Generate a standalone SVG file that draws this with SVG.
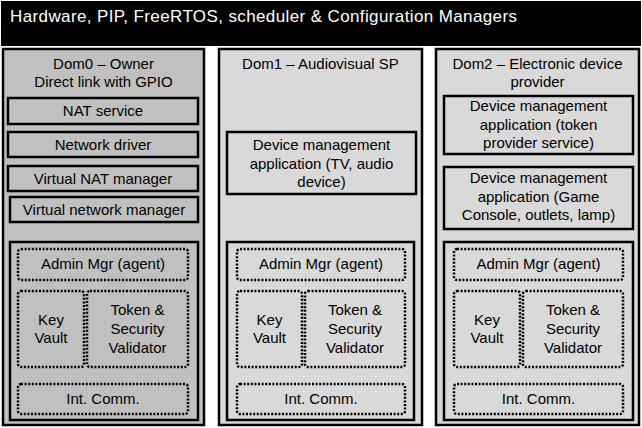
<svg xmlns="http://www.w3.org/2000/svg" width="642" height="428" viewBox="0 0 642 428">
<style>
text{font-family:"Liberation Sans",Arial,sans-serif;font-size:15px;fill:#000;text-anchor:middle}
.title{font-size:17px;fill:#fff;text-anchor:start}
.dom{stroke:#000;stroke-width:2.5}
.d0{fill:#c0c0c0}
.d1{fill:#d9d9d9}
.solid{stroke:#000;stroke-width:2.5}
.dot{fill:none;stroke:#000;stroke-width:2.5;stroke-dasharray:2 1.6}
</style>
<rect width="642" height="428" fill="#fff"/>
<g id="header">
<rect x="1" y="1" width="640" height="45" fill="#000"/>
<text class="title" x="10" y="22" textLength="507" lengthAdjust="spacing">Hardware, PIP, FreeRTOS, scheduler &amp; Configuration Managers</text>
</g>

<g id="dom0">
<rect class="dom d0" x="3" y="49" width="201" height="376"/>
<text x="103.5" y="69">Dom0 – Owner</text>
<text x="103.5" y="87">Direct link with GPIO</text>
</g>
<g id="nat-service"><rect class="solid d0" x="8" y="98" width="190" height="26"/><text x="103" y="116">NAT service</text></g>
<g id="network-driver"><rect class="solid d0" x="8" y="132" width="190" height="25"/><text x="103" y="149.5">Network driver</text></g>
<g id="virtual-nat-manager"><rect class="solid d0" x="8" y="166" width="190" height="25"/><text x="103" y="183.5">Virtual NAT manager</text></g>
<g id="virtual-network-manager"><rect class="solid d0" x="10" y="197" width="188" height="25"/><text x="104" y="214.5">Virtual network manager</text></g>
<g id="dom0-agent">
<rect class="solid d0" x="10" y="242" width="188" height="178"/>
<rect class="dot" x="18" y="249" width="170" height="31" rx="3"/><text x="103" y="269">Admin Mgr (agent)</text>
<rect class="dot" x="18" y="291" width="66" height="76" rx="3"/><text x="51" y="325">Key</text><text x="51" y="343">Vault</text>
<rect class="dot" x="87" y="291" width="101" height="76" rx="3"/><text x="137.5" y="315">Token &amp;</text><text x="137.5" y="334">Security</text><text x="137.5" y="353">Validator</text>
<rect class="dot" x="18" y="384" width="170" height="30" rx="3"/><text x="103" y="404">Int. Comm.</text>
</g>

<g id="dom1">
<rect class="dom d1" x="219" y="49" width="203" height="376"/>
<text x="320.5" y="69">Dom1 – Audiovisual SP</text>
</g>
<g id="dom1-device-app"><rect class="solid d1" x="227" y="132" width="189" height="62"/>
<text x="321.5" y="150">Device management</text><text x="321.5" y="168.5">application (TV, audio</text><text x="321.5" y="187">device)</text></g>
<g id="dom1-agent">
<rect class="solid d1" x="227" y="242" width="187" height="178"/>
<rect class="dot" x="237" y="249" width="168" height="31" rx="3"/><text x="321" y="269">Admin Mgr (agent)</text>
<rect class="dot" x="237" y="291" width="65" height="76" rx="3"/><text x="269.5" y="325">Key</text><text x="269.5" y="343">Vault</text>
<rect class="dot" x="305" y="291" width="100" height="76" rx="3"/><text x="355" y="315">Token &amp;</text><text x="355" y="334">Security</text><text x="355" y="353">Validator</text>
<rect class="dot" x="237" y="384" width="168" height="30" rx="3"/><text x="321" y="404">Int. Comm.</text>
</g>

<g id="dom2">
<rect class="dom d1" x="436" y="49" width="203" height="376"/>
<text x="537.5" y="69">Dom2 – Electronic device</text>
<text x="537.5" y="87">provider</text>
</g>
<g id="dom2-token-provider"><rect class="solid d1" x="444" y="96" width="189" height="58"/>
<text x="538.5" y="111">Device management</text><text x="538.5" y="129.5">application (token</text><text x="538.5" y="148">provider service)</text></g>
<g id="dom2-device-app"><rect class="solid d1" x="444" y="167" width="189" height="62"/>
<text x="538.5" y="183">Device management</text><text x="538.5" y="201.5">application (Game</text><text x="538.5" y="220">Console, outlets, lamp)</text></g>
<g id="dom2-agent">
<rect class="solid d1" x="444" y="242" width="189" height="178"/>
<rect class="dot" x="454" y="249" width="169" height="31" rx="3"/><text x="538.5" y="269">Admin Mgr (agent)</text>
<rect class="dot" x="454" y="291" width="66" height="76" rx="3"/><text x="487" y="325">Key</text><text x="487" y="343">Vault</text>
<rect class="dot" x="523" y="291" width="100" height="76" rx="3"/><text x="573" y="315">Token &amp;</text><text x="573" y="334">Security</text><text x="573" y="353">Validator</text>
<rect class="dot" x="454" y="384" width="169" height="30" rx="3"/><text x="538.5" y="404">Int. Comm.</text>
</g>
</svg>
